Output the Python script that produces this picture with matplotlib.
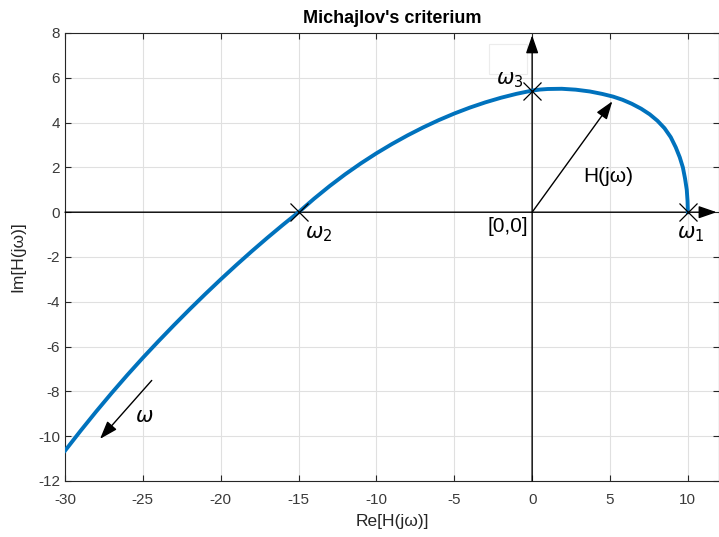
import numpy as np
import matplotlib
matplotlib.use("Agg")
import matplotlib.pyplot as plt
from matplotlib.patches import Rectangle

plt.rcParams['font.family'] = ['Liberation Sans', 'DejaVu Sans']
plt.rcParams['axes.unicode_minus'] = False

## curve: Re and Im of H(jw) ##
re_h = [10.0, 9.98, 9.93, 9.82, 9.68, 9.48, 9.22, 8.90, 8.50, 8.05,
        7.55, 7.0, 6.4, 5.8, 5.2, 4.5, 3.7, 2.8, 1.9, 1.0, 0.5,
        0.0, -1.0, -2.0, -3.0, -4.0, -5.0, -6.0, -7.0, -8.0, -9.0,
        -10.0, -11.0, -12.0, -13.0, -14.0, -15.0, -16.0, -17.0, -18.0, -19.0,
        -20.0, -21.0, -22.0, -23.0, -24.0, -25.0, -26.0, -27.0, -28.0, -29.0, -30.0]
im_h = [0.0, 0.5, 1.0, 1.5, 2.0, 2.45, 2.9, 3.35, 3.75, 4.08,
        4.37, 4.62, 4.84, 5.02, 5.16, 5.28, 5.39, 5.47, 5.51, 5.50, 5.475,
        5.43, 5.285, 5.11, 4.905, 4.67, 4.405, 4.11, 3.785, 3.43, 3.045,
        2.63, 2.18, 1.695, 1.17, 0.605, 0.0, -0.56, -1.14, -1.74, -2.36,
        -3.00, -3.66, -4.34, -5.04, -5.76, -6.50, -7.27, -8.07, -8.90, -9.76, -10.65]

# crossing points w1, w2, w3
cross_re = [10.0, -15.0, 0.0]
cross_im = [0.0, 0.0, 5.43]

xticks = [-30, -25, -20, -15, -10, -5, 0, 5, 10]
yticks = [-12, -10, -8, -6, -4, -2, 0, 2, 4, 6, 8]

fig = plt.figure(figsize=(7.19, 5.37), dpi=100)
ax = fig.add_axes([65/719, 1-481/537, 654/719, 448/537])

ax.set_xlim(-30, 12)
ax.set_ylim(-12, 8)
ax.set_xticks(xticks)
ax.set_yticks(yticks)
ax.grid(True, color='#e0e0e0', lw=0.8)
ax.set_axisbelow(True)
ax.tick_params(direction='in', top=True, right=True, length=4, width=0.8,
               colors='#262626', labelsize=11, labelcolor='#3a3a3a')
ax.tick_params(axis='x', pad=9)
for s in ax.spines.values():
    s.set_color('#262626')
    s.set_linewidth(0.8)

# axes with arrows
akw = dict(arrowstyle='-|>,head_length=1.1,head_width=0.38', color='k', lw=1.0,
           shrinkA=0, shrinkB=0)
ax.annotate('', xy=(11.85, 0), xytext=(-30, 0), arrowprops=akw)
ax.annotate('', xy=(0, 7.9), xytext=(0, -12), arrowprops=akw)

ax.plot(re_h, im_h, color='#0072BD', lw=2.8, zorder=3)
ax.plot(cross_re, cross_im, 'x', color='k', ms=13, mew=0.9, zorder=4)

# vector H(jw) and direction of w
ax.annotate('', xy=(5.15, 4.95), xytext=(0, 0), arrowprops=akw)
ax.annotate('', xy=(-27.75, -10.12), xytext=(-24.43, -7.51), arrowprops=akw)

ax.add_patch(Rectangle((-2.75, 6.15), 2.45, 1.35, fill=False, ec='#ececec', lw=0.8))

ax.text(-0.55, 5.45, r'$\omega_3$', ha='right', va='bottom', fontsize=15)
ax.text(9.3, -0.55, r'$\omega_1$', ha='left', va='top', fontsize=15)
ax.text(-14.6, -0.55, r'$\omega_2$', ha='left', va='top', fontsize=15)
ax.text(-0.25, -0.2, '[0,0]', ha='right', va='top', fontsize=15)
ax.text(3.3, 1.6, 'H(j\u03c9)', ha='left', va='center', fontsize=15)
ax.text(-25.5, -9.1, r'$\omega$', ha='left', va='center', fontsize=15)

ax.set_title("Michajlov's criterium", fontsize=13, fontweight='bold', pad=7)
ax.set_xlabel('Re[H(j\u03c9)]', fontsize=12.5, color='#262626', labelpad=5)
ax.set_ylabel('Im[H(j\u03c9)]', fontsize=12.5, color='#262626', labelpad=9)

fig.savefig('out.png', dpi=100)
